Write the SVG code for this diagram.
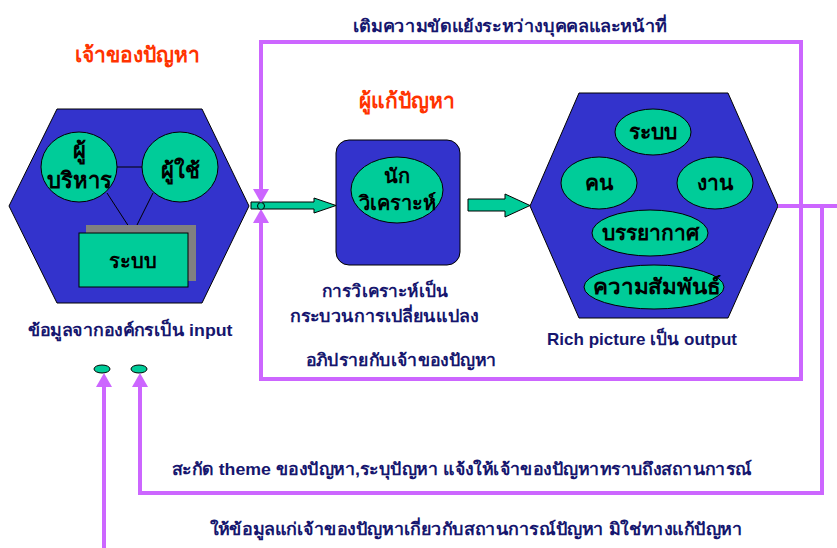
<svg xmlns="http://www.w3.org/2000/svg" width="837" height="548" viewBox="0 0 837 548">
<defs>
<style>
.hex{fill:#3333CC;stroke:#000;stroke-width:1}
.ell{fill:#00CC99;stroke:#000;stroke-width:1}
.lbl{font-family:"Liberation Sans","Noto Sans",sans-serif;font-weight:bold;fill:#000;text-anchor:middle}
.big{font-size:22px}
.mid{font-size:20px}
.rh{font-size:21px}
.cap{font-family:"Liberation Sans","Noto Sans",sans-serif;font-weight:bold;fill:#16166E;font-size:17px;text-anchor:middle}
.ttl{font-family:"Liberation Sans","Noto Sans",sans-serif;font-weight:bold;fill:#FF3300;font-size:21px;text-anchor:middle}
.pink{fill:none;stroke:#CC66FF;stroke-width:4}
.garrow{fill:#00CC99;stroke:#000;stroke-width:1}
</style>
<marker id="ah" markerUnits="userSpaceOnUse" markerWidth="16" markerHeight="16" refX="0" refY="8" orient="auto">
<path d="M0,0 L14,8 L0,16 Z" fill="#CC66FF"/>
</marker>
</defs>
<rect width="837" height="548" fill="#fff"/>

<g id="owner">
<polygon class="hex" points="57,109 202,109 249,206 202,303 57,303 9,206"/>
<line x1="117" y1="167" x2="142" y2="167" stroke="#000"/>
<line x1="107" y1="193" x2="133" y2="233" stroke="#000"/>
<line x1="153" y1="193" x2="133" y2="233" stroke="#000"/>
<ellipse class="ell" cx="79" cy="167" rx="38" ry="35"/>
<ellipse class="ell" cx="180" cy="167" rx="38" ry="35"/>
<rect x="86" y="225" width="110" height="56" fill="#808080"/>
<rect x="79" y="233" width="109" height="54" class="ell"/>
<text class="lbl big" x="79" y="158">ผู้</text>
<text class="lbl big" x="79" y="188">บริหาร</text>
<text class="lbl big" x="180" y="178">ผู้ใช้</text>
<text class="lbl mid" x="133" y="268">ระบบ</text>
</g>

<g id="analyst">
<rect x="336" y="140" width="124" height="125" rx="13" class="hex"/>
<ellipse class="ell" cx="397" cy="190" rx="46" ry="33"/>
<text class="lbl mid" x="397" y="183">นัก</text>
<text class="lbl mid" x="397" y="210">วิเคราะห์</text>
</g>

<g id="richpicture">
<polygon class="hex" points="579,93 728,93 778,206 728,318 579,318 530,206"/>
<ellipse class="ell" cx="653" cy="132" rx="38" ry="23"/>
<ellipse class="ell" cx="599" cy="183" rx="38" ry="26"/>
<ellipse class="ell" cx="715" cy="183" rx="38" ry="26"/>
<ellipse class="ell" cx="650" cy="233" rx="58" ry="23"/>
<ellipse class="ell" cx="654" cy="287" rx="70" ry="22"/>
<text class="lbl rh" x="653" y="139">ระบบ</text>
<text class="lbl rh" x="599" y="190">คน</text>
<text class="lbl rh" x="715" y="190">งาน</text>
<text class="lbl rh" x="650" y="240">บรรยากาศ</text>
<text class="lbl rh" x="657" y="294" textLength="128" lengthAdjust="spacingAndGlyphs">ความสัมพันธ์</text>
</g>

<g id="dots">
<ellipse class="ell" cx="102" cy="369" rx="8" ry="4"/>
<ellipse class="ell" cx="139" cy="369" rx="8" ry="4"/>
</g>

<g id="connectors">
<polygon class="garrow" points="251,202 314,202 314,198 336,205.5 314,213 314,209 251,209"/>
<circle cx="261" cy="206" r="3.5" class="garrow"/>
<polygon class="garrow" points="468,199 505,199 505,194 530,205.5 505,217 505,211 468,211"/>
<path class="pink" d="M778,206 H837"/>
<path class="pink" d="M801,206 V42 H261 V189" marker-end="url(#ah)"/>
<path class="pink" d="M801,206 V379 H261 V223" marker-end="url(#ah)"/>
<path class="pink" d="M822,206 V493 H140 V387" marker-end="url(#ah)"/>
<path class="pink" d="M104,548 V387" marker-end="url(#ah)"/>
</g>

<g id="labels">
<text class="ttl" x="137" y="62">เจ้าของปัญหา</text>
<text class="ttl" x="407" y="108">ผู้แก้ปัญหา</text>
<text class="cap" x="510" y="32" textLength="314" lengthAdjust="spacingAndGlyphs">เติมความขัดแย้งระหว่างบุคคลและหน้าที่</text>
<text class="cap" x="130" y="336" textLength="205" lengthAdjust="spacingAndGlyphs">ข้อมูลจากองค์กรเป็น input</text>
<text class="cap" x="385" y="297" textLength="126" lengthAdjust="spacingAndGlyphs">การวิเคราะห์เป็น</text>
<text class="cap" x="384" y="322" textLength="188" lengthAdjust="spacingAndGlyphs">กระบวนการเปลี่ยนแปลง</text>
<text class="cap" x="642" y="345" textLength="190" lengthAdjust="spacingAndGlyphs">Rich picture เป็น output</text>
<text class="cap" x="401" y="366" textLength="191" lengthAdjust="spacingAndGlyphs">อภิปรายกับเจ้าของปัญหา</text>
<text class="cap" x="462" y="475" textLength="580" lengthAdjust="spacingAndGlyphs">สะกัด theme ของปัญหา,ระบุปัญหา แจ้งให้เจ้าของปัญหาทราบถึงสถานการณ์</text>
<text class="cap" x="476" y="535" textLength="533" lengthAdjust="spacingAndGlyphs">ให้ข้อมูลแก่เจ้าของปัญหาเกี่ยวกับสถานการณ์ปัญหา มิใช่ทางแก้ปัญหา</text>
</g>
</svg>
